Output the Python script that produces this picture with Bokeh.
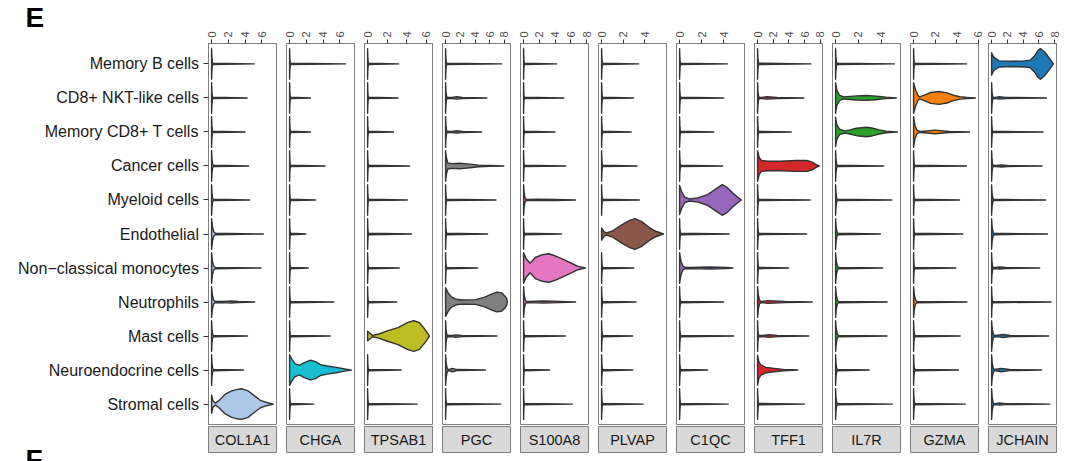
import math
from bokeh.plotting import figure
from bokeh.layouts import row, column
from bokeh.models import Range1d, FixedTicker
from bokeh.core.properties import value
from bokeh.embed import file_html
from bokeh.resources import INLINE

FONT = "Liberation Sans"

CELL_TYPES = ["Memory B cells", "CD8+ NKT-like cells", "Memory CD8+ T cells", "Cancer cells",
              "Myeloid cells", "Endothelial", "Non\u2212classical monocytes", "Neutrophils",
              "Mast cells", "Neuroendocrine cells", "Stromal cells"]
GENES = ["COL1A1", "CHGA", "TPSAB1", "PGC", "S100A8", "PLVAP", "C1QC", "TFF1", "IL7R", "GZMA", "JCHAIN"]
GENE_COLORS = ["#aec7e8", "#17becf", "#bcbd22", "#7f7f7f", "#e377c2", "#8c564b",
               "#9467bd", "#d62728", "#2ca02c", "#ff7f0e", "#1f77b4"]
X_TICKS = [0, 2, 4, 6, 8]
PANEL_LETTERS = ["E", "F"]

# maximum expression per cell type (violin tail end), rows top -> bottom
TAIL_COL1A1 = [5.1, 4.25, 4.0, 4.45, 4.55, 6.2, 5.9, 5.15, 4.3, 3.8, 7.4]
TAIL_CHGA = [6.7, 2.5, 2.5, 4.25, 3.1, 1.95, 2.25, 5.3, 4.85, 7.4, 2.9]
TAIL_TPSAB1 = [3.17, 3.1, 2.64, 4.28, 4.05, 4.47, 3.23, 2.97, 6.3, 3.43, 5.06]
TAIL_PGC = [7.6, 5.6, 4.9, 7.9, 6.85, 5.7, 4.35, 8.4, 7.0, 5.4, 7.5]
TAIL_S100A8 = [4.2, 5.1, 4.0, 5.35, 6.6, 4.8, 7.85, 6.6, 5.3, 3.3, 6.2]
TAIL_PLVAP = [3.42, 2.94, 2.73, 3.27, 3.48, 5.7, 2.97, 3.18, 2.88, 2.88, 3.84]
TAIL_C1QC = [4.33, 4.0, 3.1, 3.9, 5.6, 4.5, 4.83, 3.98, 4.9, 2.53, 4.42]
TAIL_TFF1 = [6.8, 5.9, 4.3, 7.9, 6.7, 6.27, 3.97, 6.98, 6.56, 5.14, 6.0]
TAIL_IL7R = [5.14, 5.31, 5.4, 4.2, 4.91, 3.91, 4.11, 4.51, 4.49, 2.94, 4.97]
TAIL_GZMA = [4.93, 5.75, 5.2, 4.93, 4.27, 4.57, 3.93, 4.96, 4.33, 4.18, 4.81]
TAIL_JCHAIN = [7.85, 6.98, 6.53, 6.4, 6.86, 7.1, 6.11, 7.56, 7.27, 6.36, 7.4]
TAILS = [TAIL_COL1A1, TAIL_CHGA, TAIL_TPSAB1, TAIL_PGC, TAIL_S100A8, TAIL_PLVAP,
         TAIL_C1QC, TAIL_TFF1, TAIL_IL7R, TAIL_GZMA, TAIL_JCHAIN]

# extent of the zero-expression spike (data units)
SPIKE_COL1A1 = [0.15, 0.15, 0.15, 0.2, 0.2, 0.45, 0.4, 0.4, 0.2, 0.2, 0.15]
SPIKE_CHGA = [0.12, 0.12, 0.12, 0.12, 0.12, 0.12, 0.12, 0.12, 0.12, 0.12, 0.12]
SPIKE_TPSAB1 = [0.1, 0.1, 0.1, 0.1, 0.1, 0.1, 0.1, 0.1, 0.1, 0.1, 0.1]
SPIKE_PGC = [0.15, 0.2, 0.2, 0.15, 0.15, 0.15, 0.12, 0.15, 0.25, 0.35, 0.12]
SPIKE_S100A8 = [0.1, 0.1, 0.1, 0.1, 0.3, 0.12, 0.1, 0.35, 0.12, 0.1, 0.1]
SPIKE_PLVAP = [0.1, 0.1, 0.1, 0.1, 0.1, 0.1, 0.1, 0.1, 0.1, 0.1, 0.1]
SPIKE_C1QC = [0.1, 0.1, 0.1, 0.1, 0.1, 0.1, 0.5, 0.1, 0.1, 0.1, 0.1]
SPIKE_TFF1 = [0.15, 0.2, 0.15, 0.15, 0.15, 0.15, 0.15, 0.4, 0.15, 0.15, 0.15]
SPIKE_IL7R = [0.12, 0.12, 0.12, 0.15, 0.15, 0.2, 0.25, 0.25, 0.25, 0.15, 0.15]
SPIKE_GZMA = [0.1, 0.1, 0.5, 0.1, 0.1, 0.1, 0.1, 0.3, 0.12, 0.12, 0.12]
SPIKE_JCHAIN = [0.15, 0.2, 0.15, 0.2, 0.25, 0.3, 0.2, 0.15, 0.35, 0.35, 0.3]
SPIKES = [SPIKE_COL1A1, SPIKE_CHGA, SPIKE_TPSAB1, SPIKE_PGC, SPIKE_S100A8, SPIKE_PLVAP,
          SPIKE_C1QC, SPIKE_TFF1, SPIKE_IL7R, SPIKE_GZMA, SPIKE_JCHAIN]

# small thickenings along thin violins: (gene, row) -> (start, peak, end, half width)
BUMPS = {
    (0, 7): (1.5, 2.3, 3.2, 0.03),
    (3, 1): (0.9, 1.5, 2.3, 0.035),
    (3, 2): (0.9, 1.5, 2.3, 0.035),
    (3, 8): (0.8, 1.4, 2.2, 0.035),
    (3, 9): (0.45, 0.9, 1.6, 0.05),
    (4, 4): (0.5, 1.8, 4.0, 0.02),
    (4, 7): (0.8, 2.5, 4.5, 0.03),
    (6, 6): (1.0, 2.8, 4.2, 0.03),
    (7, 1): (0.5, 1.2, 2.5, 0.035),
    (7, 7): (0.5, 1.3, 3.5, 0.04),
    (7, 8): (0.6, 1.5, 2.5, 0.04),
    (9, 2): (0.7, 2.0, 3.3, 0.055),
    (10, 1): (0.5, 1.0, 1.8, 0.035),
    (10, 3): (0.6, 1.2, 2.0, 0.03),
    (10, 6): (0.5, 1.0, 1.8, 0.03),
    (10, 8): (0.5, 1.5, 2.4, 0.045),
    (10, 9): (0.4, 1.2, 2.3, 0.05),
    (10, 10): (0.5, 1.0, 1.8, 0.03),
}

# outlines of the expressed violins: (expression, half width)
V_COL1A1_STROMAL = [(0, 0.27), (0.15, 0.1), (0.45, 0.03), (0.86, 0.1), (1.63, 0.29), (2.41, 0.39),
                    (3.2, 0.44), (3.6, 0.45), (4.36, 0.39), (5.14, 0.24), (5.9, 0.1), (6.7, 0.04)]
V_CHGA_NEURO = [(0, 0.45), (0.27, 0.32), (0.66, 0.19), (1.17, 0.14), (1.75, 0.22), (2.5, 0.29),
                (3.1, 0.25), (3.7, 0.16), (4.5, 0.12), (5.6, 0.08), (6.6, 0.03)]
V_TPSAB1_MAST = [(0, 0.14), (0.3, 0.07), (0.5, 0.02), (1.15, 0.06), (2.1, 0.16), (3.1, 0.25),
                 (4.1, 0.4), (4.7, 0.45), (5.25, 0.4), (5.75, 0.23), (6.05, 0.11)]
V_PGC_CANCER = [(0, 0.45), (0.1, 0.25), (0.3, 0.09), (0.9, 0.07), (1.9, 0.08), (3.0, 0.06),
                (4.5, 0.025), (6.0, 0.012)]
V_PGC_NEUTRO = [(0, 0.42), (0.35, 0.27), (0.8, 0.15), (1.45, 0.08), (2.3, 0.06), (4.1, 0.07),
                (5.4, 0.15), (6.3, 0.24), (6.95, 0.29), (7.6, 0.27), (8.05, 0.18), (8.3, 0.1)]
V_S100A8_NCM = [(0, 0.45), (0.3, 0.28), (0.83, 0.14), (1.5, 0.31), (2.36, 0.39), (3.2, 0.42),
                (4.0, 0.36), (5.25, 0.23), (6.07, 0.14), (6.9, 0.05)]
V_PLVAP_ENDO = [(0, 0.18), (0.2, 0.08), (0.42, 0.03), (0.96, 0.08), (1.86, 0.27), (2.6, 0.4),
                (3.06, 0.45), (3.66, 0.37), (4.4, 0.19), (5.0, 0.08)]
V_C1QC_MYELOID = [(0, 0.43), (0.18, 0.25), (0.47, 0.08), (0.9, 0.03), (1.65, 0.06), (2.54, 0.16),
                  (3.4, 0.35), (3.86, 0.45), (4.3, 0.37), (4.9, 0.18), (5.34, 0.06)]
V_TFF1_CANCER = [(0, 0.45), (0.2, 0.25), (0.5, 0.16), (1.26, 0.14), (2.9, 0.14), (5.0, 0.16),
                 (6.3, 0.16), (6.9, 0.12), (7.5, 0.04)]
V_TFF1_NEURO = [(0, 0.44), (0.15, 0.25), (0.42, 0.15), (1.05, 0.08), (2.1, 0.05), (3.3, 0.02)]
V_IL7R_NKT = [(0, 0.45), (0.11, 0.22), (0.34, 0.08), (0.69, 0.03), (1.26, 0.045), (1.83, 0.06),
              (2.7, 0.07), (3.26, 0.06), (3.83, 0.04), (4.4, 0.02)]
V_IL7R_CD8 = [(0, 0.43), (0.11, 0.21), (0.34, 0.08), (0.8, 0.03), (1.26, 0.06), (1.83, 0.11),
              (2.7, 0.14), (3.26, 0.11), (3.83, 0.06), (4.4, 0.025)]
V_GZMA_NKT = [(0, 0.45), (0.18, 0.25), (0.39, 0.08), (0.55, 0.03), (1.0, 0.08), (1.6, 0.16),
              (2.36, 0.19), (3.1, 0.15), (3.7, 0.08), (4.3, 0.035), (5.0, 0.015)]
V_JCHAIN_MEMB = [(0, 0.33), (0.25, 0.2), (0.95, 0.09), (2.8, 0.08), (4.2, 0.09), (4.9, 0.11),
                 (5.5, 0.25), (5.9, 0.4), (6.2, 0.45), (6.74, 0.35), (7.36, 0.16)]

PROFILES = {
    (0, 10): V_COL1A1_STROMAL, (1, 9): V_CHGA_NEURO, (2, 8): V_TPSAB1_MAST,
    (3, 3): V_PGC_CANCER, (3, 7): V_PGC_NEUTRO, (4, 6): V_S100A8_NCM,
    (5, 5): V_PLVAP_ENDO, (6, 4): V_C1QC_MYELOID, (7, 3): V_TFF1_CANCER,
    (7, 9): V_TFF1_NEURO, (8, 1): V_IL7R_NKT, (8, 2): V_IL7R_CD8,
    (9, 1): V_GZMA_NKT, (10, 0): V_JCHAIN_MEMB,
}

N = len(CELL_TYPES)


def outline(g, r):
    tail = TAILS[g][r]
    if (g, r) in PROFILES:
        pts = list(PROFILES[(g, r)])
    else:
        s = SPIKES[g][r]
        pts = [(0, 0.45), (0.25 * s, 0.2), (0.6 * s, 0.06), (s, 0.02)]
        if (g, r) in BUMPS:
            a, pk, b, hw = BUMPS[(g, r)]
            pts += [(a, 0.015), (pk, hw), (b, 0.015)]
    pts.append((tail, 0.0))
    yc = N - r
    xs = [p[0] for p in pts] + [p[0] for p in reversed(pts)]
    ys = [yc + p[1] for p in pts] + [yc - p[1] for p in reversed(pts)]
    return xs, ys


# geometry (pixels)
GUTTER_W = 200
TOP_BORDER = 43
FRAME_H = 381
GAP = 2
STRIP_H = 26
BOTTOM = 9
TOTAL_H = TOP_BORDER + FRAME_H + GAP + STRIP_H + BOTTOM

Y_LO, Y_HI = 0.4, N + 0.6
PX_PER_UNIT = FRAME_H / (Y_HI - Y_LO)
G_TOP = Y_HI + TOP_BORDER / PX_PER_UNIT
G_BOT = Y_LO - (TOTAL_H - TOP_BORDER - FRAME_H) / PX_PER_UNIT


def page_y(py):
    return G_TOP - py / PX_PER_UNIT


# left gutter holding the row labels and the panel letters
gut = figure(frame_width=GUTTER_W, frame_height=TOTAL_H,
             x_range=Range1d(0, GUTTER_W), y_range=Range1d(G_BOT, G_TOP),
             x_axis_location=None, y_axis_location=None,
             min_border_left=0, min_border_right=0, min_border_top=0, min_border_bottom=0,
             output_backend="svg", toolbar_location=None, tools="")
gut.grid.grid_line_color = None
gut.outline_line_color = None
gut.background_fill_color = "white"
gut.border_fill_color = "white"
gut.text(x=[GUTTER_W - 1.5] * N, y=[N - i for i in range(N)], text=CELL_TYPES,
         text_align="right", text_baseline="middle", text_font=value(FONT),
         text_font_size="16px", text_color="#1a1a1a")
gut.text(x=[25], y=[page_y(17)], text=[PANEL_LETTERS[0]], text_align="left",
         text_baseline="alphabetic", text_font=value(FONT), text_font_size="28px",
         text_font_style="bold", text_color="black")
gut.text(x=[25], y=[page_y(443)], text=[PANEL_LETTERS[1]], text_align="left",
         text_baseline="top", text_font=value(FONT), text_font_size="28px",
         text_font_style="bold", text_color="black")

y_range = Range1d(Y_LO, Y_HI)
tops = []
strips = []
for g, gene in enumerate(GENES):
    m = max(TAILS[g])
    first = g == 0
    p = figure(frame_width=68, frame_height=FRAME_H,
               x_range=Range1d(-0.05 * m, 1.05 * m), y_range=y_range,
               x_axis_location="above", y_axis_location="left" if first else None,
               min_border_left=8 if first else 5, min_border_right=5,
               min_border_top=TOP_BORDER, min_border_bottom=GAP,
               output_backend="svg", toolbar_location=None, tools="")
    p.grid.grid_line_color = None
    p.outline_line_color = "#7f7f7f"
    p.outline_line_width = 1
    p.background_fill_color = "white"
    p.border_fill_color = "white"

    ax = p.xaxis[0]
    ax.ticker = FixedTicker(ticks=X_TICKS)
    ax.major_label_orientation = math.pi / 2
    ax.major_label_text_font = FONT
    ax.major_label_text_font_size = "11px"
    ax.major_label_text_color = "#4d4d4d"
    ax.major_label_standoff = 2
    ax.major_tick_out = 4
    ax.major_tick_in = 0
    ax.major_tick_line_color = "#333333"
    ax.minor_tick_line_color = None
    ax.axis_line_color = "#7f7f7f"

    if first:
        ya = p.yaxis[0]
        ya.ticker = FixedTicker(ticks=list(range(1, N + 1)))
        ya.major_label_overrides = {k: "" for k in range(1, N + 1)}
        ya.major_label_text_font_size = "1px"
        ya.major_label_standoff = 0
        ya.major_tick_out = 5
        ya.major_tick_in = 0
        ya.major_tick_line_color = "#333333"
        ya.minor_tick_line_color = None
        ya.axis_line_color = "#7f7f7f"

    xs_all, ys_all = [], []
    for r in range(N):
        xs, ys = outline(g, r)
        xs_all.append(xs)
        ys_all.append(ys)
    p.patches(xs_all, ys_all, fill_color=GENE_COLORS[g], line_color="#333333",
              line_width=1.4, line_join="round")
    tops.append(p)

    s = figure(frame_width=68, frame_height=STRIP_H, x_range=Range1d(0, 1), y_range=Range1d(0, 1),
               x_axis_location=None, y_axis_location=None,
               min_border_left=8 if first else 5, min_border_right=5,
               min_border_top=0, min_border_bottom=BOTTOM,
               output_backend="svg", toolbar_location=None, tools="")
    s.grid.grid_line_color = None
    s.background_fill_color = "#d9d9d9"
    s.border_fill_color = "white"
    s.outline_line_color = "#7f7f7f"
    s.outline_line_width = 1
    s.text(x=[0.5], y=[0.5], text=[gene], text_align="center", text_baseline="middle",
           text_font=value(FONT), text_font_size="14.5px", text_color="#1a1a1a")
    strips.append(s)

layout = row(gut, column(row(*tops), row(*strips)))
open("out.html", "w").write(file_html(layout, INLINE))
